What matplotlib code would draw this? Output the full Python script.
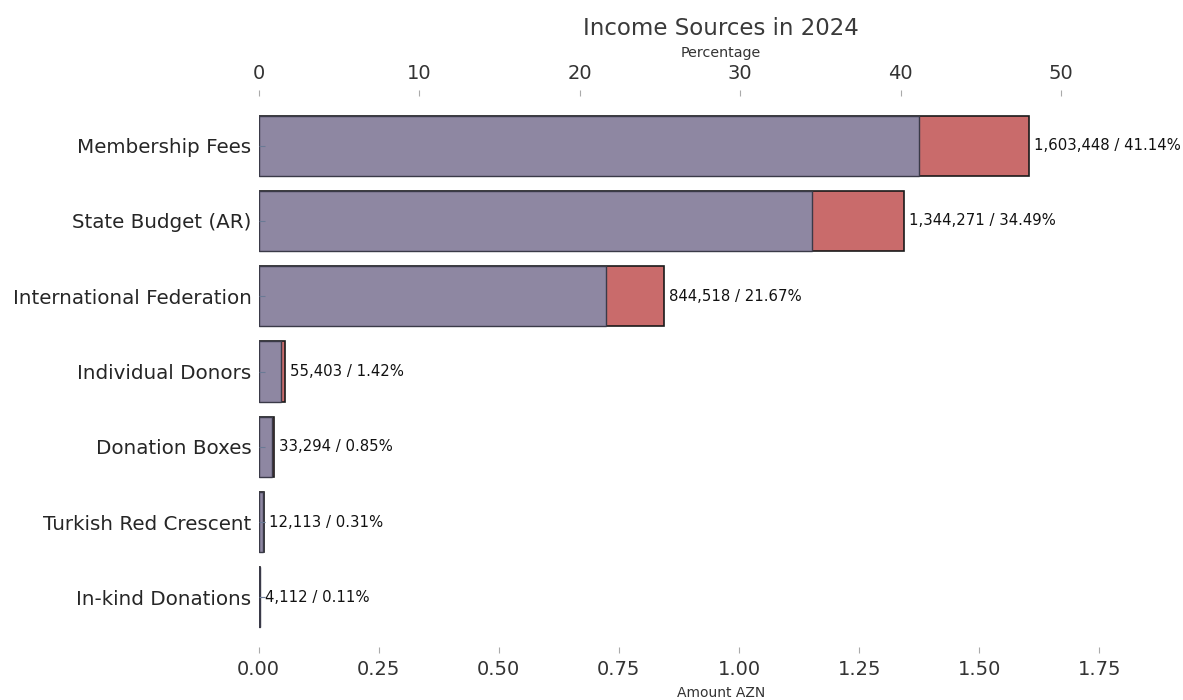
import matplotlib
matplotlib.use("Agg")
import matplotlib.pyplot as plt

categories = ["Membership Fees", "State Budget (AR)", "International Federation",
              "Individual Donors", "Donation Boxes", "Turkish Red Crescent", "In-kind Donations"]
amounts = [1603448, 1344271, 844518, 55403, 33294, 12113, 4112]
percentages = [41.14, 34.49, 21.67, 1.42, 0.85, 0.31, 0.11]

amounts_m = [a / 1e6 for a in amounts]
labels = [f"{a:,} / {p:.2f}%" for a, p in zip(amounts, percentages)]

RED = "#C96B6B"
PURPLE = "#8E87A2"
TXT = "#333333"

fig = plt.figure(figsize=(11.83, 7.0), dpi=100)
ax = fig.add_axes([258.5 / 1183, 1 - 653 / 700, 1 - 258.5 / 1183, (653 - 90) / 700])
ypos = list(range(len(categories)))

ax.barh(ypos, amounts_m, height=0.8, color=RED, edgecolor="#1a1a1a", linewidth=1.2)
ax.set_xlim(0, 1.924)
ax.set_yticks(ypos)
ax.set_yticklabels(categories, fontsize=14.3, color="#262626")
ax.invert_yaxis()
ax.set_xlabel("Amount AZN", fontsize=10, color=TXT, labelpad=5)
ax.tick_params(axis="x", direction="in", length=4, color="#aaaaaa", labelsize=14,
               labelcolor=TXT, pad=5)
ax.tick_params(axis="y", direction="in", length=4, color="#aaaaaa", pad=5)
for s in ax.spines.values():
    s.set_visible(False)

for i, (a, lab) in enumerate(zip(amounts_m, labels)):
    ax.annotate(lab, xy=(a, i), xytext=(3.5, 0), textcoords="offset points",
                va="center", ha="left", fontsize=10.7, color="#111111")

ax2 = ax.twiny()
ax2.barh(ypos, percentages, height=0.8, color=PURPLE, edgecolor="#3a3a48", linewidth=1.0)
ax2.set_xlim(0, 57.6)
ax2.set_xlabel("Percentage", fontsize=10.3, color=TXT, labelpad=5)
ax2.tick_params(axis="x", direction="in", length=4, color="#aaaaaa", labelsize=14,
                labelcolor=TXT, pad=5)
ax2.yaxis.set_visible(True)
ax2.tick_params(axis="y", direction="in", length=4, color="#6a7a95", labelleft=False, left=True)
for s in ax2.spines.values():
    s.set_visible(False)
ax2.set_title("Income Sources in 2024", fontsize=16.5, color="#3a3a3a", pad=8)

fig.savefig("out.png", dpi=100)
